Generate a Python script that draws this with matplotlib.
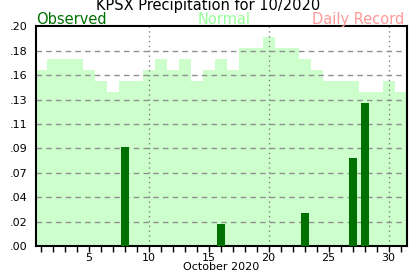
import numpy as np
import matplotlib
matplotlib.use("Agg")
import matplotlib.pyplot as plt

days = list(range(1, 32))
normal = [0.16, 0.17, 0.17, 0.17, 0.16, 0.15, 0.14, 0.15, 0.15, 0.16,
          0.17, 0.16, 0.17, 0.15, 0.16, 0.17, 0.16, 0.18, 0.18, 0.19,
          0.18, 0.18, 0.17, 0.16, 0.15, 0.15, 0.15, 0.14, 0.14, 0.15,
          0.14]
obs_days = [8, 16, 23, 27, 28]
obs_vals = [0.09, 0.02, 0.03, 0.08, 0.13]
yticks = [i * 0.2 / 9 for i in range(10)]
ylabels = [".00", ".02", ".04", ".07", ".09", ".11", ".13", ".16", ".18", ".20"]

plt.rcParams['font.family'] = 'DejaVu Sans'
fig = plt.figure(figsize=(4.17, 2.76), dpi=100)
ax = fig.add_axes([0.0863, 0.1087, 0.975 - 0.0863, 0.904 - 0.1087])

# normals as full-width bars
ax.bar(days, normal, width=1.0, color='#ccffcc', linewidth=0, zorder=1)

# grid
for y in yticks[1:-1]:
    ax.axhline(y, color='#909090', linestyle=(0, (4, 3)), linewidth=1, zorder=2)
for x in [10, 20, 30]:
    ax.axvline(x, color='#808080', linestyle=(0, (1, 2.5)), linewidth=1, zorder=2)

ax.bar(obs_days, obs_vals, width=0.67, color='#007000', linewidth=0, zorder=3)

ax.set_xlim(0.62, 31.5)
ax.set_ylim(0, 0.2)
ax.set_yticks(yticks)
ax.set_yticklabels(ylabels, fontsize=8)
ax.tick_params(axis='y', length=0, pad=6)
ax.set_xticks([5, 10, 15, 20, 25, 30])
ax.set_xticks(days, minor=True)
ax.tick_params(axis='x', which='both', length=4, width=1, labelsize=8, pad=1)
ax.set_xlabel('October 2020', fontsize=8, labelpad=-1)
for s in ax.spines.values():
    s.set_linewidth(1.5)

fig.text(0.5, 0.962, 'KPSX Precipitation for 10/2020', ha='center', va='baseline', fontsize=10.5)
fig.text(0.0863, 0.913, 'Observed', color='#007000', ha='left', va='baseline', fontsize=10.5)
fig.text(0.537, 0.913, 'Normal', color='#99ff99', ha='center', va='baseline', fontsize=10.5)
fig.text(0.97, 0.913, 'Daily Record', color='#ff9999', ha='right', va='baseline', fontsize=10.5)

fig.savefig('out.png', dpi=100)
